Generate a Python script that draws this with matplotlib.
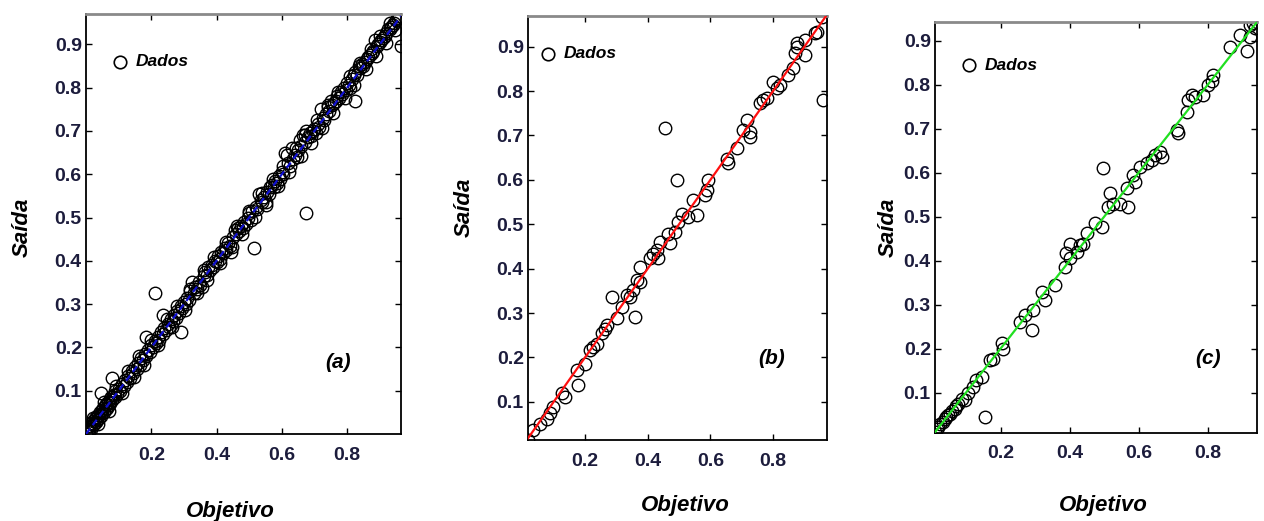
import matplotlib
matplotlib.use("Agg")
import matplotlib.pyplot as plt

plt.rcParams['font.family'] = ['Liberation Sans', 'DejaVu Sans']

W, H = 1264, 521

# (a) dados de treinamento
x_a = [0.000, 0.005, 0.010, 0.012, 0.015, 0.018, 0.020, 0.022, 0.025, 0.028,
       0.030, 0.032, 0.035, 0.038, 0.040, 0.042, 0.045, 0.045, 0.048, 0.050,
       0.052, 0.055, 0.058, 0.060, 0.062, 0.065, 0.068, 0.070, 0.072, 0.075,
       0.078, 0.080, 0.080, 0.085, 0.088, 0.090, 0.095, 0.100, 0.105, 0.110,
       0.115, 0.120, 0.125, 0.130, 0.135, 0.140, 0.145, 0.150, 0.155, 0.160,
       0.165, 0.170, 0.175, 0.180, 0.185, 0.185, 0.190, 0.195, 0.200, 0.205,
       0.210, 0.210, 0.215, 0.220, 0.225, 0.230, 0.235, 0.235, 0.240, 0.245,
       0.250, 0.255, 0.260, 0.265, 0.270, 0.275, 0.280, 0.285, 0.290, 0.290,
       0.295, 0.300, 0.305, 0.310, 0.315, 0.320, 0.325, 0.330, 0.335, 0.340,
       0.345, 0.350, 0.355, 0.360, 0.365, 0.370, 0.375, 0.380, 0.385, 0.390,
       0.395, 0.400, 0.405, 0.410, 0.415, 0.420, 0.425, 0.430, 0.435, 0.440,
       0.445, 0.450, 0.455, 0.460, 0.465, 0.470, 0.475, 0.480, 0.485, 0.490,
       0.495, 0.500, 0.505, 0.510, 0.515, 0.520, 0.525, 0.530, 0.535, 0.540,
       0.545, 0.550, 0.555, 0.560, 0.565, 0.570, 0.575, 0.580, 0.585, 0.590,
       0.595, 0.600, 0.605, 0.610, 0.615, 0.620, 0.625, 0.630, 0.635, 0.640,
       0.645, 0.650, 0.655, 0.660, 0.665, 0.670, 0.675, 0.675, 0.680, 0.685,
       0.690, 0.695, 0.700, 0.705, 0.710, 0.715, 0.720, 0.725, 0.730, 0.735,
       0.740, 0.745, 0.750, 0.755, 0.760, 0.765, 0.770, 0.775, 0.780, 0.785,
       0.790, 0.795, 0.800, 0.805, 0.810, 0.815, 0.820, 0.825, 0.825, 0.830,
       0.835, 0.840, 0.845, 0.850, 0.855, 0.860, 0.865, 0.870, 0.875, 0.880,
       0.885, 0.890, 0.895, 0.900, 0.905, 0.910, 0.915, 0.920, 0.925, 0.930,
       0.935, 0.940, 0.945, 0.950, 0.955, 0.960, 0.965,
       # pontos mais afastados da reta, dos dois lados
       0.020, 0.038, 0.055, 0.070, 0.092, 0.110, 0.128, 0.148, 0.162, 0.178,
       0.198, 0.222, 0.248, 0.262, 0.280, 0.302, 0.318, 0.340, 0.362, 0.372,
       0.392, 0.412, 0.428, 0.448, 0.462, 0.478, 0.498, 0.518, 0.538, 0.552,
       0.572, 0.588, 0.602, 0.622, 0.642, 0.658, 0.672, 0.688, 0.708, 0.722,
       0.742, 0.758, 0.772, 0.792, 0.808, 0.822, 0.838, 0.858, 0.872, 0.888,
       0.902, 0.918, 0.932, 0.948]
y_a = [0.000, 0.010, 0.008, 0.018, 0.012, 0.025, 0.020, 0.030, 0.022, 0.035,
       0.028, 0.040, 0.032, 0.045, 0.038, 0.050, 0.095, 0.042, 0.055, 0.048,
       0.060, 0.050, 0.065, 0.058, 0.070, 0.060, 0.075, 0.068, 0.080, 0.072,
       0.085, 0.130, 0.078, 0.090, 0.085, 0.100, 0.092, 0.105, 0.100, 0.115,
       0.112, 0.125, 0.120, 0.135, 0.130, 0.145, 0.140, 0.155, 0.150, 0.165,
       0.160, 0.175, 0.170, 0.185, 0.225, 0.180, 0.195, 0.190, 0.205, 0.200,
       0.325, 0.215, 0.210, 0.225, 0.218, 0.235, 0.275, 0.230, 0.245, 0.240,
       0.255, 0.248, 0.265, 0.260, 0.275, 0.268, 0.285, 0.280, 0.235, 0.295,
       0.290, 0.305, 0.300, 0.315, 0.310, 0.330, 0.350, 0.325, 0.340, 0.335,
       0.350, 0.345, 0.340, 0.365, 0.375, 0.368, 0.385, 0.378, 0.390, 0.385,
       0.400, 0.398, 0.410, 0.405, 0.420, 0.418, 0.430, 0.425, 0.440, 0.435,
       0.420, 0.455, 0.470, 0.462, 0.475, 0.468, 0.480, 0.475, 0.490, 0.485,
       0.500, 0.510, 0.495, 0.515, 0.430, 0.525, 0.520, 0.555, 0.540, 0.535,
       0.548, 0.530, 0.560, 0.555, 0.570, 0.575, 0.570, 0.585, 0.580, 0.595,
       0.590, 0.605, 0.600, 0.650, 0.645, 0.625, 0.620, 0.660, 0.635, 0.645,
       0.640, 0.655, 0.680, 0.665, 0.690, 0.675, 0.510, 0.700, 0.685, 0.695,
       0.688, 0.700, 0.705, 0.695, 0.715, 0.710, 0.750, 0.730, 0.725, 0.740,
       0.755, 0.745, 0.770, 0.760, 0.765, 0.770, 0.780, 0.775, 0.790, 0.785,
       0.800, 0.795, 0.810, 0.805, 0.800, 0.820, 0.830, 0.770, 0.835, 0.828,
       0.850, 0.845, 0.855, 0.850, 0.860, 0.865, 0.870, 0.875, 0.880, 0.885,
       0.910, 0.895, 0.900, 0.905, 0.910, 0.915, 0.920, 0.925, 0.935, 0.935,
       0.940, 0.945, 0.950, 0.955, 0.960, 0.965, 0.895,
       0.038, 0.022, 0.075, 0.052, 0.110, 0.094, 0.146, 0.132, 0.180, 0.160,
       0.216, 0.206, 0.266, 0.248, 0.296, 0.286, 0.336, 0.325, 0.378, 0.356,
       0.408, 0.396, 0.444, 0.432, 0.480, 0.462, 0.514, 0.502, 0.556, 0.536,
       0.590, 0.572, 0.620, 0.606, 0.660, 0.642, 0.690, 0.672, 0.726, 0.706,
       0.760, 0.742, 0.790, 0.776, 0.826, 0.806, 0.856, 0.842, 0.890, 0.872,
       0.920, 0.902, 0.950, 0.932]

# (b) dados de validação
x_b = [0.019, 0.035, 0.056, 0.078, 0.088, 0.099, 0.126, 0.136, 0.173, 0.179,
       0.200, 0.216, 0.226, 0.237, 0.253, 0.264, 0.269, 0.285, 0.301, 0.317,
       0.333, 0.344, 0.354, 0.360, 0.365, 0.375, 0.375, 0.407, 0.418, 0.429,
       0.434, 0.439, 0.455, 0.466, 0.471, 0.487, 0.492, 0.498, 0.508, 0.530,
       0.545, 0.556, 0.583, 0.588, 0.593, 0.652, 0.657, 0.684, 0.705, 0.716,
       0.726, 0.726, 0.758, 0.769, 0.780, 0.800, 0.811, 0.822, 0.848, 0.864,
       0.870, 0.875, 0.875, 0.902, 0.902, 0.934, 0.939, 0.955, 0.958]
y_b = [0.015, 0.036, 0.051, 0.062, 0.074, 0.089, 0.119, 0.111, 0.171, 0.137,
       0.186, 0.216, 0.224, 0.231, 0.254, 0.265, 0.273, 0.336, 0.288, 0.314,
       0.340, 0.336, 0.352, 0.290, 0.374, 0.370, 0.404, 0.423, 0.434, 0.442,
       0.423, 0.460, 0.716, 0.479, 0.457, 0.483, 0.600, 0.505, 0.524, 0.517,
       0.554, 0.521, 0.566, 0.577, 0.599, 0.648, 0.637, 0.671, 0.712, 0.735,
       0.697, 0.708, 0.772, 0.780, 0.784, 0.821, 0.806, 0.814, 0.836, 0.851,
       0.885, 0.900, 0.908, 0.881, 0.915, 0.930, 0.934, 0.967, 0.780]

# (c) dados de teste
x_c = [0.010, 0.015, 0.019, 0.025, 0.034, 0.038, 0.043, 0.048, 0.053, 0.060,
       0.068, 0.072, 0.077, 0.087, 0.097, 0.106, 0.121, 0.130, 0.145, 0.154,
       0.169, 0.179, 0.203, 0.208, 0.256, 0.270, 0.290, 0.295, 0.319, 0.328,
       0.357, 0.386, 0.391, 0.401, 0.401, 0.420, 0.430, 0.439, 0.449, 0.473,
       0.493, 0.497, 0.512, 0.517, 0.526, 0.546, 0.565, 0.570, 0.584, 0.589,
       0.604, 0.623, 0.638, 0.647, 0.662, 0.667, 0.710, 0.715, 0.739, 0.744,
       0.754, 0.763, 0.787, 0.802, 0.812, 0.816, 0.865, 0.894, 0.913, 0.923,
       0.923, 0.932, 0.937, 0.942]
y_c = [0.010, 0.018, 0.022, 0.028, 0.033, 0.040, 0.044, 0.050, 0.052, 0.058,
       0.063, 0.070, 0.075, 0.086, 0.082, 0.098, 0.113, 0.128, 0.136, 0.044,
       0.174, 0.177, 0.212, 0.200, 0.261, 0.276, 0.242, 0.287, 0.329, 0.310,
       0.344, 0.386, 0.417, 0.405, 0.439, 0.420, 0.436, 0.439, 0.462, 0.485,
       0.477, 0.610, 0.523, 0.553, 0.530, 0.530, 0.565, 0.523, 0.595, 0.580,
       0.614, 0.622, 0.629, 0.641, 0.648, 0.637, 0.697, 0.690, 0.739, 0.766,
       0.777, 0.773, 0.777, 0.800, 0.808, 0.823, 0.887, 0.914, 0.876, 0.910,
       0.937, 0.941, 0.929, 0.944]

panels = [
    dict(x=x_a, y=y_a, xlim=(0.0, 0.965), ylim=(0.0, 0.97), color='#1010d0',
         ls=(0, (3, 2)), box=(86, 14, 401, 434), tag='(a)', tag_pos=(338, 362),
         leg=(120, 62), ylab=(22, 227), xlab=(230, 511)),
    dict(x=x_b, y=y_b, xlim=(0.018, 0.972), ylim=(0.014, 0.969), color='#ff1010',
         ls='-', box=(528, 16, 827, 440), tag='(b)', tag_pos=(772, 358),
         leg=(548, 54), ylab=(464, 207), xlab=(685, 505)),
    dict(x=x_c, y=y_c, xlim=(0.01, 0.943), ylim=(0.008, 0.943), color='#20e020',
         ls='-', box=(935, 22, 1257, 433), tag='(c)', tag_pos=(1208, 359),
         leg=(969, 65), ylab=(888, 227), xlab=(1103, 505)),
]

fig = plt.figure(figsize=(W / 100, H / 100), dpi=100)
tick_color = '#1c1c3c'


def fx(px):
    return px / W


def fy(py):
    return 1 - py / H


for p in panels:
    l, t, r, b = p['box']
    ax = fig.add_axes([fx(l), fy(b), fx(r) - fx(l), fy(t) - fy(b)])
    ax.plot(p['x'], p['y'], 'o', mfc='none', mec='black', ms=9, mew=1.0, zorder=2)
    ax.plot(p['xlim'], p['xlim'], color=p['color'], ls=p['ls'], lw=1.6, zorder=3)
    ax.set_xlim(p['xlim'])
    ax.set_ylim(p['ylim'])
    ax.set_xticks([0.2, 0.4, 0.6, 0.8])
    ax.set_yticks([0.1, 0.2, 0.3, 0.4, 0.5, 0.6, 0.7, 0.8, 0.9])
    ax.set_xticklabels(['0.2', '0.4', '0.6', '0.8'])
    ax.set_yticklabels(['0.1', '0.2', '0.3', '0.4', '0.5', '0.6', '0.7', '0.8', '0.9'])
    ax.tick_params(direction='in', length=4, width=1, top=True, right=True,
                   labelsize=14, labelcolor=tick_color)
    ax.tick_params(axis='x', pad=9)
    ax.tick_params(axis='y', pad=3)
    for lab in ax.get_xticklabels() + ax.get_yticklabels():
        lab.set_fontweight('bold')
    for side in ['left', 'bottom', 'right']:
        ax.spines[side].set_linewidth(1.3)
        ax.spines[side].set_color('black')
    ax.spines['top'].set_linewidth(2.0)
    ax.spines['top'].set_color('#8a8a8a')

    # legenda
    lx, ly = p['leg']
    fig.lines.append(plt.Line2D([fx(lx)], [fy(ly)], marker='o', mfc='none', mec='black',
                                ms=9, mew=1.2, transform=fig.transFigure))
    fig.text(fx(lx + 16), fy(ly), 'Dados', fontsize=12.5, fontweight='bold',
             style='italic', va='center', ha='left')

    # rótulos
    tx, ty = p['tag_pos']
    fig.text(fx(tx), fy(ty), p['tag'], fontsize=15, fontweight='bold',
             style='italic', ha='center', va='center')
    yx, yy = p['ylab']
    fig.text(fx(yx), fy(yy), 'Saída', fontsize=16, fontweight='bold',
             style='italic', rotation=90, ha='center', va='center')
    xx, xy = p['xlab']
    fig.text(fx(xx), fy(xy), 'Objetivo', fontsize=16, fontweight='bold',
             style='italic', ha='center', va='center')

fig.savefig('out.png', dpi=100)
